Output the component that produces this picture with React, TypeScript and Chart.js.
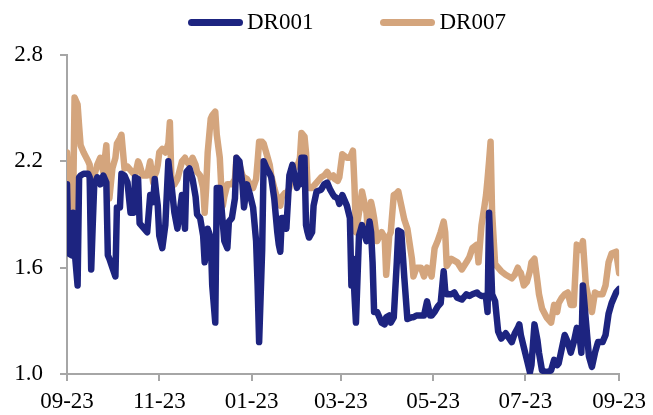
import { useEffect, useRef } from 'react';
import { Chart, registerables } from 'chart.js';

Chart.register(...registerables);

// Interbank pledged repo rates, %
const dates = [
  '2022-09-23', '2022-09-24', '2022-09-26', '2022-09-27', '2022-09-28', '2022-09-30', '2022-10-01', '2022-10-02',
  '2022-10-04', '2022-10-07', '2022-10-08', '2022-10-09', '2022-10-10', '2022-10-11', '2022-10-13', '2022-10-15',
  '2022-10-17', '2022-10-19', '2022-10-20', '2022-10-21', '2022-10-23', '2022-10-25', '2022-10-26', '2022-10-28',
  '2022-10-29', '2022-10-31', '2022-11-02', '2022-11-04', '2022-11-06', '2022-11-07', '2022-11-09', '2022-11-10',
  '2022-11-12', '2022-11-15', '2022-11-17', '2022-11-19', '2022-11-20', '2022-11-21', '2022-11-22', '2022-11-23',
  '2022-11-25', '2022-11-27', '2022-11-29', '2022-11-30', '2022-12-01', '2022-12-03', '2022-12-05', '2022-12-08',
  '2022-12-10', '2022-12-11', '2022-12-13', '2022-12-15', '2022-12-17', '2022-12-18', '2022-12-20', '2022-12-22',
  '2022-12-23', '2022-12-24', '2022-12-25', '2022-12-27', '2022-12-28', '2022-12-30', '2022-12-31', '2023-01-02',
  '2023-01-03', '2023-01-04', '2023-01-05', '2023-01-07', '2023-01-08', '2023-01-10', '2023-01-12', '2023-01-13',
  '2023-01-15', '2023-01-17', '2023-01-18', '2023-01-20', '2023-01-22', '2023-01-24', '2023-01-26', '2023-01-27',
  '2023-01-28', '2023-01-30', '2023-01-31', '2023-02-02', '2023-02-04', '2023-02-05', '2023-02-07', '2023-02-09',
  '2023-02-10', '2023-02-11', '2023-02-12', '2023-02-14', '2023-02-15', '2023-02-16', '2023-02-17', '2023-02-19',
  '2023-02-22', '2023-02-23', '2023-02-24', '2023-02-25', '2023-02-27', '2023-02-28', '2023-03-01', '2023-03-02',
  '2023-03-04', '2023-03-05', '2023-03-07', '2023-03-10', '2023-03-12', '2023-03-14', '2023-03-16', '2023-03-18',
  '2023-03-19', '2023-03-21', '2023-03-22', '2023-03-24', '2023-03-27', '2023-03-29', '2023-03-30', '2023-03-31',
  '2023-04-01', '2023-04-02', '2023-04-04', '2023-04-06', '2023-04-09', '2023-04-10', '2023-04-11', '2023-04-12',
  '2023-04-13', '2023-04-14', '2023-04-16', '2023-04-19', '2023-04-21', '2023-04-22', '2023-04-24', '2023-04-25',
  '2023-04-27', '2023-04-29', '2023-04-30', '2023-05-02', '2023-05-04', '2023-05-06', '2023-05-09', '2023-05-10',
  '2023-05-12', '2023-05-15', '2023-05-17', '2023-05-19', '2023-05-21', '2023-05-22', '2023-05-24', '2023-05-26',
  '2023-05-28', '2023-05-30', '2023-05-31', '2023-06-01', '2023-06-04', '2023-06-06', '2023-06-08', '2023-06-11',
  '2023-06-14', '2023-06-16', '2023-06-18', '2023-06-21', '2023-06-22', '2023-06-24', '2023-06-26', '2023-06-27',
  '2023-06-28', '2023-06-29', '2023-06-30', '2023-07-01', '2023-07-03', '2023-07-05', '2023-07-07', '2023-07-10',
  '2023-07-14', '2023-07-16', '2023-07-18', '2023-07-19', '2023-07-20', '2023-07-22', '2023-07-24', '2023-07-26',
  '2023-07-27', '2023-07-29', '2023-07-31', '2023-08-01', '2023-08-03', '2023-08-06', '2023-08-09', '2023-08-11',
  '2023-08-13', '2023-08-14', '2023-08-16', '2023-08-18', '2023-08-20', '2023-08-22', '2023-08-24', '2023-08-26',
  '2023-08-28', '2023-08-29', '2023-08-30', '2023-09-01', '2023-09-03', '2023-09-05', '2023-09-07', '2023-09-09',
  '2023-09-12', '2023-09-14', '2023-09-16', '2023-09-18', '2023-09-21', '2023-09-23',
];

const dr001 = [
  2.07, 1.68, 1.67, 1.91, 1.70, 1.50, 2.11, 2.12,
  2.13, 2.13, 2.11, 1.59, 1.84, 2.07, 2.11, 2.07,
  2.12, 2.08, 1.67, 1.65, 1.60, 1.55, 1.94, 1.94,
  2.13, 2.12, 2.08, 1.91, 1.91, 2.11, 2.10, 1.85,
  1.83, 1.80, 2.01, 1.97, 2.10, 2.02, 1.95, 1.78,
  1.71, 1.84, 2.20, 2.12, 2.07, 1.91, 1.82, 2.01,
  1.82, 2.14, 2.16, 2.10, 2.00, 1.90, 1.88, 1.78,
  1.63, 1.70, 1.82, 1.77, 1.50, 1.29, 2.05, 2.05,
  1.95, 1.85, 1.75, 1.71, 1.86, 1.88, 1.99, 2.22,
  2.20, 2.07, 1.94, 2.07, 2.01, 1.94, 1.75, 1.50,
  1.18, 1.70, 2.20, 2.16, 2.13, 2.11, 1.99, 1.80,
  1.73, 1.69, 1.88, 1.88, 1.82, 1.97, 2.12, 2.18,
  2.05, 2.08, 2.07, 2.22, 2.22, 1.84, 1.80, 1.77,
  1.80, 1.95, 2.03, 2.04, 2.07, 2.08, 2.04, 2.01,
  2.00, 1.99, 1.96, 2.01, 1.95, 1.88, 1.50, 1.65,
  1.45, 1.29, 1.78, 1.84, 1.75, 1.78, 1.86, 1.80,
  1.63, 1.35, 1.35, 1.29, 1.28, 1.32, 1.33, 1.29,
  1.32, 1.63, 1.81, 1.80, 1.54, 1.31, 1.32, 1.32,
  1.33, 1.33, 1.33, 1.41, 1.33, 1.33, 1.35, 1.38,
  1.40, 1.58, 1.47, 1.45, 1.45, 1.46, 1.43, 1.42,
  1.45, 1.44, 1.45, 1.46, 1.45, 1.44, 1.44, 1.43,
  1.35, 1.91, 1.70, 1.45, 1.41, 1.24, 1.20, 1.23,
  1.18, 1.23, 1.26, 1.28, 1.22, 1.15, 1.08, 1.01,
  1.05, 1.28, 1.19, 1.12, 1.02, 1.01, 1.02, 1.08,
  1.05, 1.06, 1.14, 1.22, 1.18, 1.12, 1.18, 1.26,
  1.20, 1.12, 1.50, 1.30, 1.10, 1.04, 1.12, 1.18,
  1.18, 1.22, 1.34, 1.40, 1.46, 1.48,
];

const dr007 = [
  2.25, 2.10, 1.94, 1.93, 2.56, 2.52, 2.40, 2.29,
  2.25, 2.20, 2.18, 1.84, 2.07, 2.12, 2.18, 2.22,
  2.14, 2.29, 2.10, 1.99, 2.16, 2.22, 2.30, 2.33,
  2.35, 2.16, 2.17, 2.15, 2.13, 2.12, 2.20, 2.18,
  2.12, 2.12, 2.20, 2.08, 2.12, 2.14, 2.18, 2.25,
  2.27, 2.25, 2.30, 2.42, 2.10, 2.07, 2.10, 2.20,
  2.22, 2.20, 2.18, 2.22, 2.18, 2.14, 2.12, 2.05,
  1.91, 2.05, 2.25, 2.44, 2.46, 2.48, 2.35, 2.22,
  2.05, 1.95, 2.00, 2.07, 2.07, 2.07, 2.10, 2.22,
  2.18, 2.12, 2.11, 2.10, 2.07, 2.05, 2.10, 2.20,
  2.31, 2.31, 2.30, 2.24, 2.18, 2.12, 2.05, 1.99,
  1.97, 1.95, 2.00, 2.02, 2.01, 2.03, 2.05, 2.14,
  2.18, 2.19, 2.22, 2.36, 2.34, 2.25, 2.07, 2.05,
  2.05, 2.06, 2.08, 2.11, 2.12, 2.14, 2.11, 2.12,
  2.10, 2.09, 2.11, 2.24, 2.22, 2.22, 2.24, 2.26,
  2.07, 1.80, 1.91, 2.03, 1.91, 1.78, 1.90, 1.97,
  1.93, 1.88, 1.75, 1.80, 1.77, 1.56, 1.78, 1.80,
  2.01, 2.02, 2.03, 1.95, 1.87, 1.82, 1.65, 1.55,
  1.60, 1.60, 1.55, 1.60, 1.58, 1.55, 1.71, 1.75,
  1.80, 1.86, 1.80, 1.61, 1.65, 1.64, 1.63, 1.59,
  1.63, 1.66, 1.71, 1.73, 1.63, 1.84, 1.95, 2.01,
  2.10, 2.20, 2.31, 1.91, 1.62, 1.60, 1.58, 1.56,
  1.54, 1.56, 1.60, 1.58, 1.57, 1.50, 1.52, 1.58,
  1.63, 1.65, 1.52, 1.45, 1.37, 1.32, 1.29, 1.39,
  1.35, 1.40, 1.43, 1.45, 1.46, 1.39, 1.39, 1.73,
  1.70, 1.71, 1.75, 1.50, 1.42, 1.35, 1.46, 1.45,
  1.45, 1.50, 1.63, 1.68, 1.69, 1.57,
];

const xTickDates = ['2022-09-23', '2022-11-23', '2023-01-23', '2023-03-23', '2023-05-23', '2023-07-23', '2023-09-23'];
const xTickLabels = ['09-23', '11-23', '01-23', '03-23', '05-23', '07-23', '09-23'];
const yTicks = [1.0, 1.6, 2.2, 2.8];

const NAVY = '#1D2480';
const TAN = '#D4A57D';
const AXIS = '#A6A6A6';
const FONT_FAMILY = "'Times New Roman', 'Liberation Serif', serif";

const DAY_MS = 86400000;
const startMs = Date.parse(dates[0]);
const dayIndex = (d: string) => Math.round((Date.parse(d) - startMs) / DAY_MS);

export default function App() {
  const canvasRef = useRef<HTMLCanvasElement | null>(null);

  useEffect(() => {
    const canvas = canvasRef.current;
    if (!canvas) return;
    const xTickDays = xTickDates.map(dayIndex);
    const font = { family: FONT_FAMILY, size: 23 };

    const lineStyle = {
      borderWidth: 6.5,
      pointRadius: 0,
      tension: 0,
      borderJoinStyle: 'round' as const,
      borderCapStyle: 'round' as const,
    };

    const chart = new Chart(canvas, {
      type: 'line',
      data: {
        datasets: [
          {
            label: 'DR001',
            data: dates.map((d, i) => ({ x: dayIndex(d), y: dr001[i] })),
            borderColor: NAVY,
            backgroundColor: NAVY,
            ...lineStyle,
          },
          {
            label: 'DR007',
            data: dates.map((d, i) => ({ x: dayIndex(d), y: dr007[i] })),
            borderColor: TAN,
            backgroundColor: TAN,
            ...lineStyle,
          },
        ],
      },
      options: {
        responsive: false,
        animation: false,
        layout: { padding: { top: 55, right: 33, left: 0, bottom: 0 } },
        plugins: {
          legend: { display: false },
          tooltip: { enabled: false },
        },
        scales: {
          x: {
            type: 'linear',
            min: xTickDays[0],
            max: xTickDays[xTickDays.length - 1],
            afterBuildTicks: (scale: any) => {
              scale.ticks = xTickDays.map((v) => ({ value: v }));
            },
            afterFit: (scale: any) => {
              scale.height = 41;
            },
            ticks: {
              autoSkip: false,
              maxRotation: 0,
              padding: 7,
              color: '#000',
              font,
              callback: (_v: any, i: number) => xTickLabels[i],
            },
            grid: {
              drawOnChartArea: false,
              drawTicks: true,
              tickLength: 7,
              color: AXIS,
              lineWidth: 2,
            },
            border: { display: true, color: AXIS, width: 2 },
          },
          y: {
            type: 'linear',
            min: yTicks[0],
            max: yTicks[yTicks.length - 1],
            afterBuildTicks: (scale: any) => {
              scale.ticks = yTicks.map((v) => ({ value: v }));
            },
            afterFit: (scale: any) => {
              scale.width = 67;
            },
            ticks: {
              padding: 17,
              color: '#000',
              font,
              callback: (v: any) => Number(v).toFixed(1),
            },
            grid: {
              drawOnChartArea: false,
              drawTicks: true,
              tickLength: 7,
              color: AXIS,
              lineWidth: 2,
            },
            border: { display: true, color: AXIS, width: 2 },
          },
        },
      },
    });

    return () => chart.destroy();
  }, []);

  const legendItem = (label: string, color: string) => (
    <div style={{ display: 'flex', alignItems: 'center', gap: 4 }}>
      <span style={{ display: 'inline-block', width: 55, height: 7, borderRadius: 4, background: color }} />
      <span style={{ fontFamily: FONT_FAMILY, fontSize: 23, color: '#000', lineHeight: '26px' }}>{label}</span>
    </div>
  );

  return (
    <div style={{ position: 'absolute', left: 0, top: 0, width: 653, height: 415, background: '#fff' }}>
      <div style={{ position: 'absolute', left: 188, top: 9, display: 'flex', gap: 67 }}>
        {legendItem('DR001', NAVY)}
        {legendItem('DR007', TAN)}
      </div>
      <canvas ref={canvasRef} width={653} height={415} style={{ display: 'block' }} />
    </div>
  );
}
